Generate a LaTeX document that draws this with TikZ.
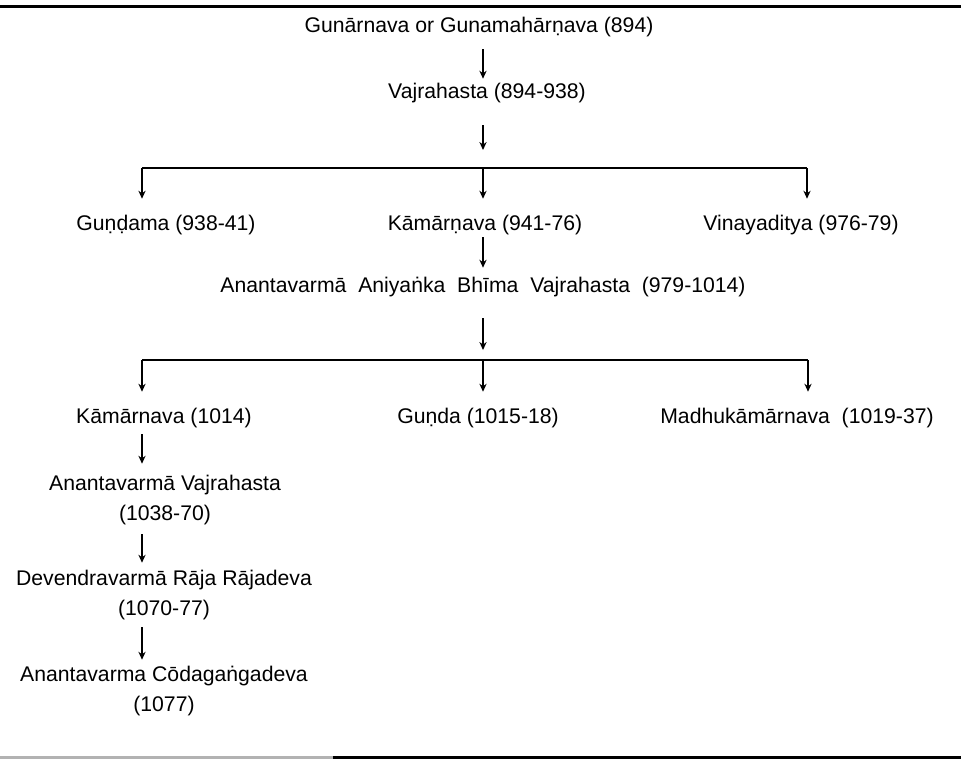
\documentclass[tikz,border=0pt]{standalone}
\usepackage{fontspec}
\setmainfont{Liberation Sans}
\usepackage{tikz}
\usetikzlibrary{arrows.meta,positioning}

\begin{document}
\begin{tikzpicture}[x=0.5pt,y=0.5pt]

\tikzset{
  king/.style  = {inner sep=1pt, align=center, font=\fontsize{10.6}{15}\selectfont},
  flow/.style  = {-{Stealth[length=4pt,width=3.6pt]}, line width=0.7pt},
  drop/.style  = {flow, shorten >=7pt},
  bar/.style   = {line width=1.2pt},
  rule/.style  = {line width=1.5pt},
}

\useasboundingbox (0,0) rectangle (961,-768);

% rules
\coordinate (tl) at (0,-6);   \coordinate (tr) at (961,-6);
\coordinate (bl) at (0,-757); \coordinate (bm) at (333,-757); \coordinate (br) at (961,-757);
\draw[rule] (tl) -- (tr);
\draw[rule, draw=black!30] (bl) -- (bm);
\draw[rule] (bm) -- (br);

% line of descent
\node[king] (gun) at (479,-27) {Gunārnava or Gunamahārṇava (894)};
\node[king] (vaj) at (487,-93) {Vajrahasta (894-938)};
\draw[flow, shorten <=5pt, shorten >=1pt] (gun.south -| 483,0) -- (vaj.north -| 483,0);

% first branching
\coordinate (b1l) at (142,-168); \coordinate (b1m) at (483,-168); \coordinate (b1r) at (807,-168);
\draw[flow] (vaj.south -| b1m) ++(0,-20) -- ([yshift=9pt]b1m);
\draw[bar] (b1l) -- (b1r);
\node[king] (gdm) at (166,-225) {Guṇḍama (938-41)};
\node[king] (kam1) at (485,-225) {Kāmārṇava (941-76)};
\node[king] (vin) at (801,-225) {Vinayaditya (976-79)};
\draw[drop] (b1l) -- (gdm.north -| b1l);
\draw[drop] (b1m) -- (kam1.north -| b1m);
\draw[drop] (b1r) -- (vin.north -| b1r);

\node[king] (ana) at (483,-287) {Anantavarmā~ Aniyaṅka~ Bhīma~ Vajrahasta~ (979-1014)};
\draw[flow, shorten >=3.5pt] (kam1.south -| b1m) -- (ana.north -| b1m);

% second branching
\coordinate (b2l) at (142,-360); \coordinate (b2m) at (483,-360); \coordinate (b2r) at (808,-360);
\draw[flow] (ana.south -| b2m) ++(0,-19) -- ([yshift=5pt]b2m);
\draw[bar] (b2l) -- (b2r);
\node[king] (kam2) at (164,-418) {Kāmārnava (1014)};
\node[king] (gun2) at (478,-418) {Guṇda (1015-18)};
\node[king] (mad) at (797,-418) {Madhukāmārnava~ (1019-37)};
\draw[drop] (b2l) -- (kam2.north -| b2l);
\draw[drop] (b2m) -- (gun2.north -| b2m);
\draw[drop] (b2r) -- (mad.north -| b2r);

% left column
\node[king] (avj) at (165,-500) {Anantavarmā Vajrahasta\\(1038-70)};
\node[king] (dev) at (164,-595) {Devendravarmā Rāja Rājadeva\\(1070-77)};
\node[king] (aco) at (164,-691) {Anantavarma Cōdagaṅgadeva\\(1077)};
\draw[flow, shorten <=2pt, shorten >=4.5pt] (kam2.south -| b2l) -- (avj.north -| b2l);
\draw[flow, shorten <=3.5pt, shorten >=2.5pt] (avj.south -| b2l) -- (dev.north -| b2l);
\draw[flow, shorten <=2.5pt, shorten >=2pt] (dev.south -| b2l) -- (aco.north -| b2l);

\end{tikzpicture}
\end{document}
